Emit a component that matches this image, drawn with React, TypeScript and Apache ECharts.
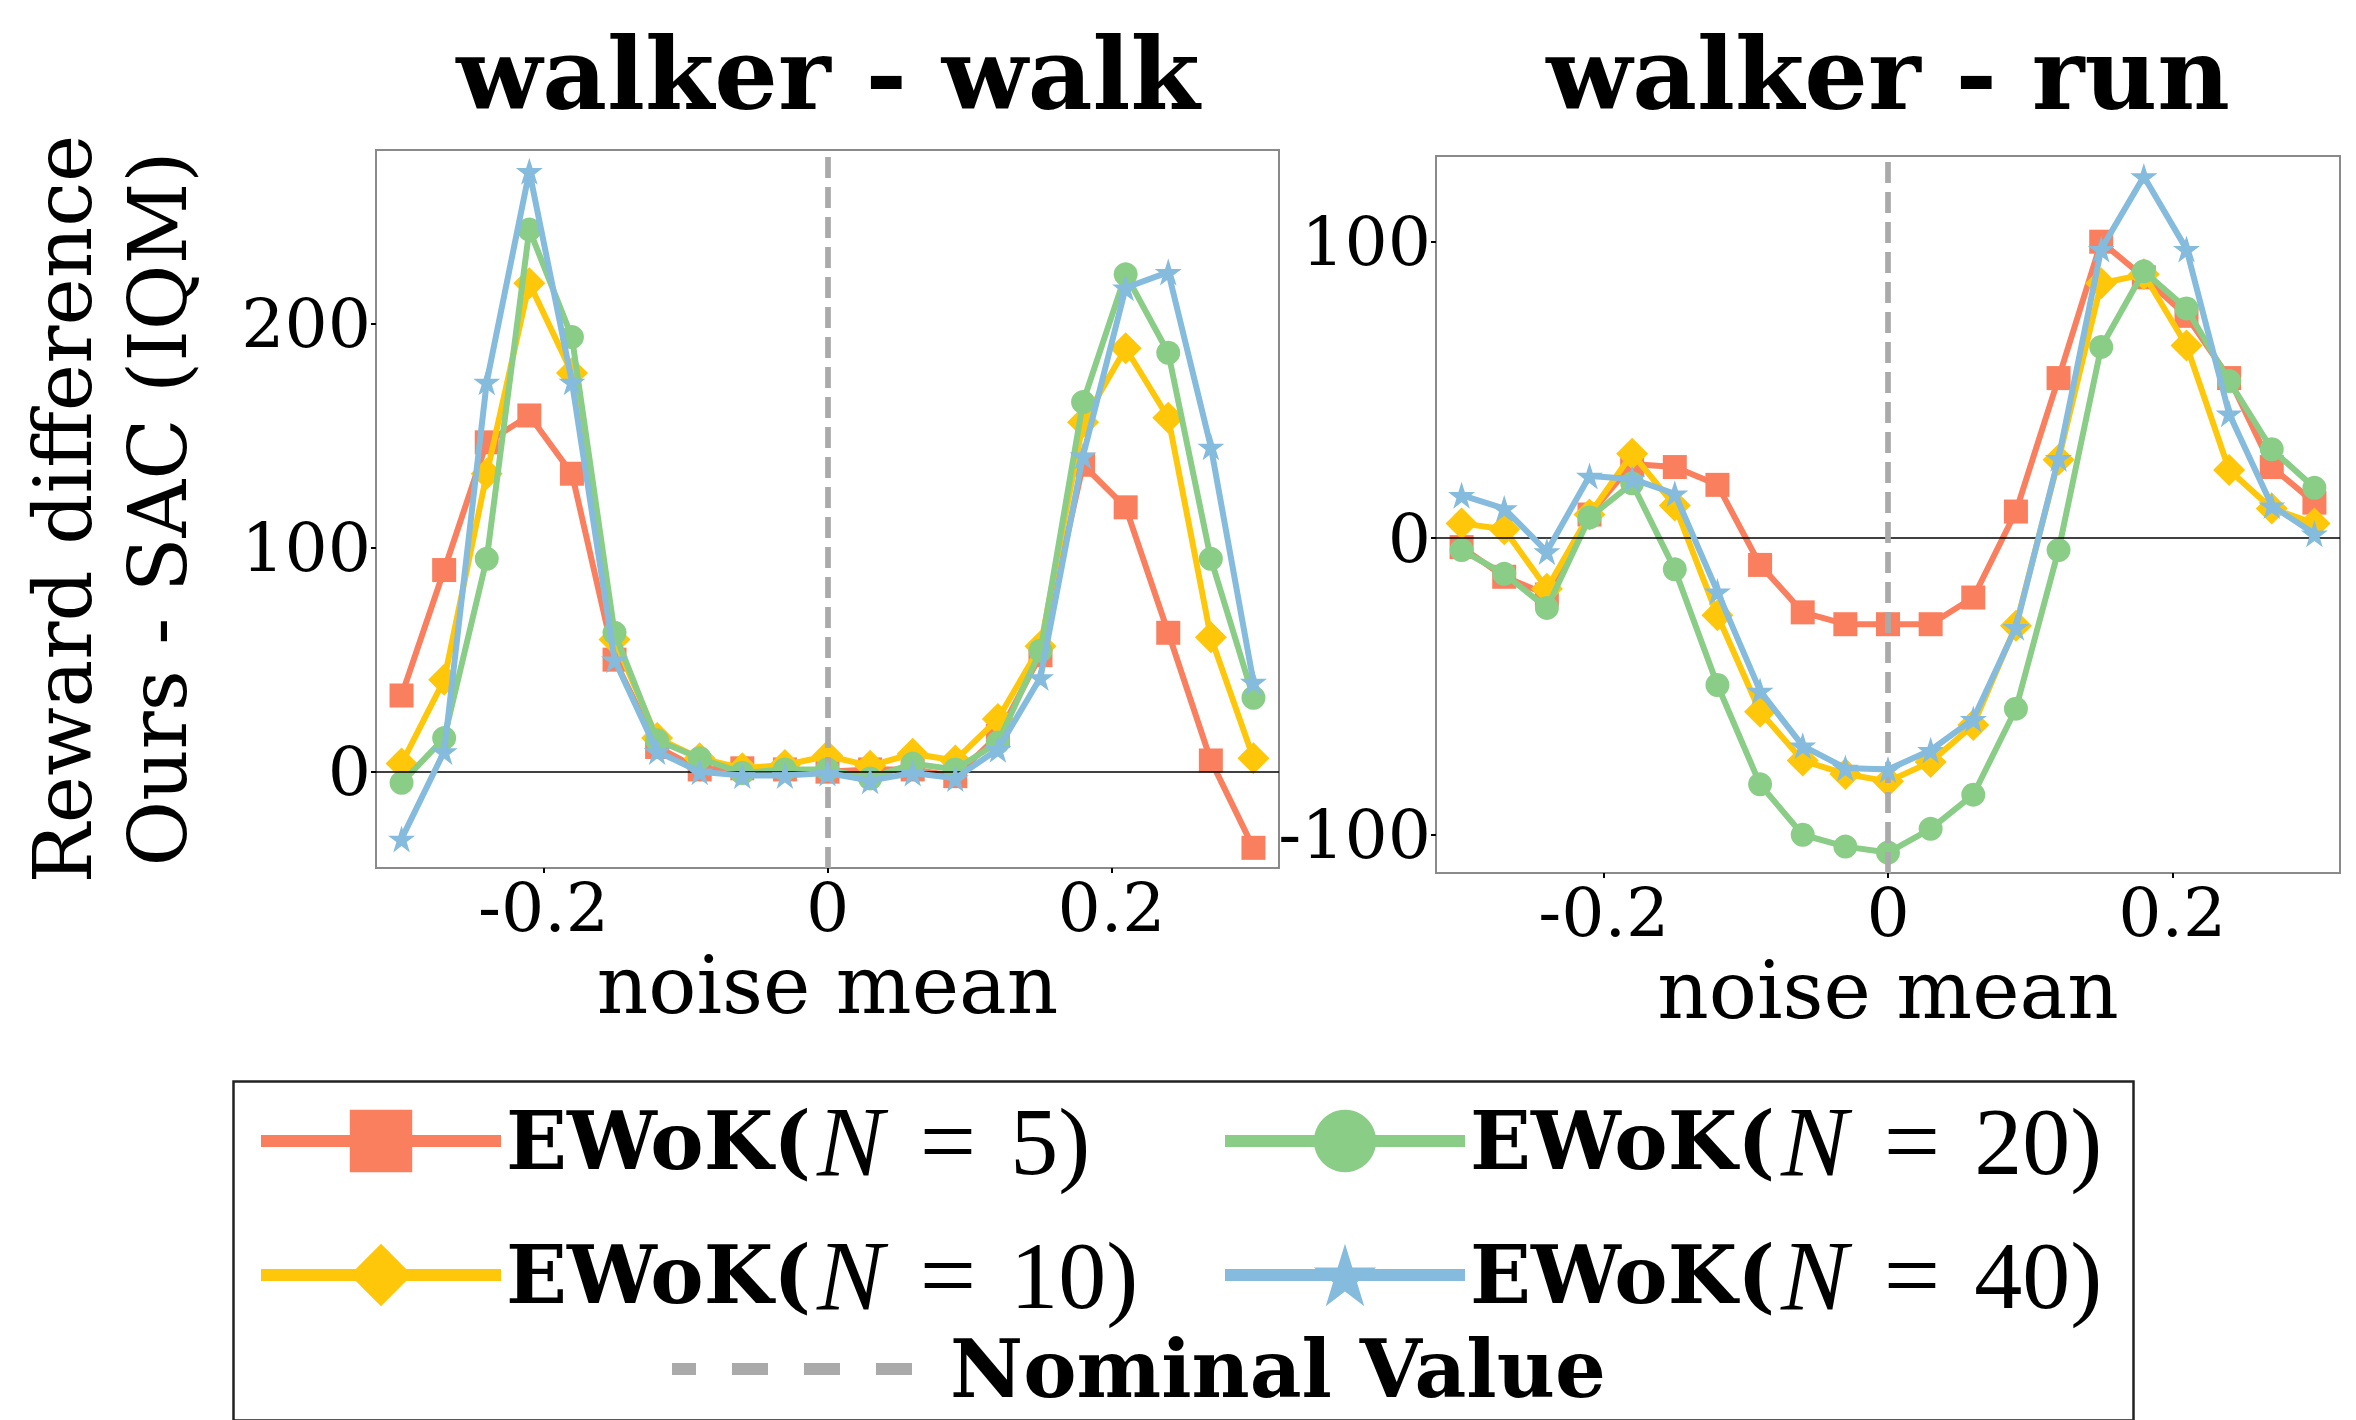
import React, { useEffect, useRef } from 'react';
import * as echarts from 'echarts';

// ---------------- data ----------------
const noiseMeans = [-0.3, -0.27, -0.24, -0.21, -0.18, -0.15, -0.12, -0.09, -0.06, -0.03, 0, 0.03, 0.06, 0.09, 0.12, 0.15, 0.18, 0.21, 0.24, 0.27, 0.3];

const walkN5 = [34, 90, 147, 159, 133, 50, 11, 1, 1.5, 1, 0, 1, 1, -2, 16, 52, 137, 118, 62, 5, -34];
const walkN10 = [3.6, 41, 133, 218, 178, 59, 15, 6, 1.5, 3, 7, 2.6, 8, 5, 23.5, 56, 156, 189, 158, 60, 6];
const walkN20 = [-5, 15, 95, 242, 194, 62, 14, 6, -0.6, 1, 1, -3, 3.6, 1, 13, 54, 165, 222, 187, 95, 33];
const walkN40 = [-30, 9, 174, 268, 174, 50, 9, 0, -1.7, -1.7, -0.6, -4, -0.6, -3, 10, 42, 141, 216, 223, 145, 40];

const runN5 = [-3, -13, -19, 8, 25, 24, 18, -9, -25, -29, -29, -29, -20, 9, 54, 100, 88, 75, 54, 24, 12];
const runN10 = [5, 3, -17, 8, 28.5, 11, -26, -58.5, -75, -79.5, -82, -75.5, -63, -29.5, 26.5, 86, 89, 65, 23, 10, 5];
const runN20 = [-4, -12, -23.5, 7, 18.5, -10.5, -49.5, -83, -100, -104, -106, -98, -86.5, -57.5, -4, 64.5, 90, 77.5, 53, 30, 17];
const runN40 = [14.5, 10, -4.5, 21, 20, 15, -18, -51.5, -70, -77.5, -78, -71.5, -61, -30, 27, 97.5, 122, 97.5, 42, 11, 1.5];

const seriesNames = ['EWoK(N = 5)', 'EWoK(N = 10)', 'EWoK(N = 20)', 'EWoK(N = 40)'];
const ensembleSizes = ['5', '10', '20', '40'];
const nominalName = 'Nominal Value';
const panelTitles = ['walker - walk', 'walker - run'];
const xTickValues = [-0.2, 0, 0.2];
const walkYTicks = [0, 100, 200];
const runYTicks = [-100, 0, 100];
const xAxisName = 'noise mean';
const yAxisName = 'Reward difference\nOurs - SAC (IQM)';

// ---------------- styles ----------------
const COLORS = ['#F97F5E', '#FFC709', '#8ACD87', '#85BBDC'];
const STAR = 'path://M50,0 L61.2,34.5 L97.6,34.5 L68.2,55.9 L79.4,90.5 L50,69.1 L20.6,90.5 L31.8,55.9 L2.4,34.5 L38.8,34.5 Z';
const SYMBOLS = ['rect', 'diamond', 'circle', STAR];
const SYMBOL_SIZES = [24, 32, 24, 27];
const SERIF = 'DejaVu Serif';
const W = 2356;
const H = 1420;

const panels = [
  { data: [walkN5, walkN10, walkN20, walkN40], yMin: -43, yMax: 277.5, yTicks: walkYTicks, grid: { left: 376, top: 150, width: 903, height: 718 }, cx: 828, nameGap: 72 },
  { data: [runN5, runN10, runN20, runN40], yMin: -112.9, yMax: 128.9, yTicks: runYTicks, grid: { left: 1436, top: 156, width: 904, height: 717 }, cx: 1888, nameGap: 68 },
];

function buildOption() {
  const grid = panels.map((p) => ({ ...p.grid, show: true, borderColor: '#8a8a8a', borderWidth: 2, backgroundColor: 'transparent' }));

  const xAxis = panels.map((p, i) => ({
    type: 'value', gridIndex: i, min: -0.318, max: 0.318,
    axisLine: { show: false, onZero: false }, splitLine: { show: false },
    axisTick: { show: true, customValues: xTickValues, length: 5, lineStyle: { color: '#000', width: 2 } },
    axisLabel: { customValues: xTickValues, fontFamily: SERIF, fontSize: 68, lineHeight: 56, color: '#000', margin: 11,
      formatter: (v: number) => (v === 0 ? '0' : String(v)) },
    axisPointer: { show: false },
    name: xAxisName, nameLocation: 'middle', nameGap: p.nameGap,
    nameTextStyle: { fontFamily: SERIF, fontSize: 80, lineHeight: 60, color: '#000' },
  }));

  const yAxis = panels.map((p, i) => ({
    type: 'value', gridIndex: i, min: p.yMin, max: p.yMax,
    axisLine: { show: false, onZero: false }, splitLine: { show: false },
    axisTick: { show: true, customValues: p.yTicks, length: 5, lineStyle: { color: '#000', width: 2 } },
    axisLabel: { customValues: p.yTicks, fontFamily: SERIF, fontSize: 68, color: '#000', margin: 5 },
    axisPointer: { show: false },
    ...(i === 0
      ? { name: yAxisName, nameLocation: 'middle', nameRotate: 90, nameGap: 170,
          nameTextStyle: { fontFamily: SERIF, fontSize: 80, lineHeight: 95, color: '#000', align: 'center' } }
      : {}),
  }));

  const series: any[] = [];
  panels.forEach((p, pi) => {
    series.push({
      name: nominalName, type: 'line', xAxisIndex: pi, yAxisIndex: pi, data: [], z: 1,
      symbol: 'none',
      itemStyle: { color: 'rgba(0,0,0,0)' },
      lineStyle: { color: '#AAAAAA', width: 12, type: [36, 36] },
      markLine: {
        silent: true, symbol: ['none', 'none'], animation: false, label: { show: false },
        emphasis: { disabled: true },
        data: [
          { yAxis: 0, lineStyle: { color: '#000', width: 1.5, type: 'solid' } },
          { xAxis: 0, lineStyle: { color: '#AAAAAA', width: 5.7, type: [21, 9] } },
        ],
      },
    });
    p.data.forEach((vals, si) => {
      series.push({
        name: seriesNames[si], type: 'line', xAxisIndex: pi, yAxisIndex: pi, z: 2 + si,
        data: noiseMeans.map((x, k) => [x, vals[k]]),
        symbol: SYMBOLS[si], symbolSize: SYMBOL_SIZES[si], showSymbol: true,
        lineStyle: { color: COLORS[si], width: 6 },
        itemStyle: { color: COLORS[si] },
        emphasis: { disabled: true },
      });
    });
  });

  const rich = {
    b: { fontFamily: SERIF, fontWeight: 'bold', fontSize: 80, lineHeight: 78, color: '#000' },
    i: { fontFamily: 'Liberation Serif', fontStyle: 'italic', fontSize: 100, lineHeight: 78, color: '#000', padding: [0, 0, 0, 6] },
    eq: { fontFamily: 'Liberation Serif', fontSize: 100, lineHeight: 78, color: '#000', padding: [0, 34, 0, 36] },
    r: { fontFamily: 'Liberation Serif', fontSize: 96, lineHeight: 78, color: '#000' },
    nb: { fontFamily: SERIF, fontWeight: 'bold', fontSize: 80, lineHeight: 78, color: '#000', padding: [0, 0, 0, 33] },
  };
  const fmt = (name: string) => {
    const idx = seriesNames.indexOf(name);
    if (idx < 0) return `{nb|${name}}`;
    return `{b|EWoK(}{i|N}{eq|=}{r|${ensembleSizes[idx]})}`;
  };
  const legendBase = {
    orient: 'horizontal', padding: 0, itemWidth: 240, itemHeight: 78, selectedMode: false,
    lineStyle: { width: 12 },
    textStyle: { rich },
    formatter: fmt,
  };
  const legendPos: [string, number, number][] = [
    [seriesNames[0], 255, 1091],
    [seriesNames[2], 1219, 1091],
    [seriesNames[1], 255, 1225],
    [seriesNames[3], 1219, 1225],
    [nominalName, 666, 1329],
  ];
  const legend = legendPos.map(([name, left, top]) => ({
    ...legendBase, left, top,
    data: name === nominalName
      ? [{ name, itemStyle: { opacity: 0 }, lineStyle: { width: 12, type: [36, 36], dashOffset: 12, color: '#AAAAAA' } }]
      : [{ name }],
  }));

  const title = panels.map((p, i) => ({
    text: panelTitles[i], left: p.cx, top: 24, textAlign: 'center', padding: 0,
    textStyle: { fontFamily: SERIF, fontWeight: 'bold', fontSize: 100, color: '#000' },
  }));

  return {
    animation: false,
    backgroundColor: '#fff',
    title, grid, xAxis, yAxis, series, legend,
    graphic: [
      { type: 'rect', left: 231, top: 1079, shape: { width: 1900, height: 339 }, style: { fill: 'none', stroke: '#222', lineWidth: 2.5 }, silent: true },
    ],
  };
}

export default function App() {
  const ref = useRef<HTMLDivElement>(null);
  useEffect(() => {
    if (!ref.current) return;
    const chart = echarts.init(ref.current, undefined, { renderer: 'svg' });
    chart.setOption(buildOption() as any);
    return () => chart.dispose();
  }, []);
  return <div ref={ref} style={{ position: 'absolute', left: 0, top: 0, width: W, height: H, background: '#fff' }} />;
}
